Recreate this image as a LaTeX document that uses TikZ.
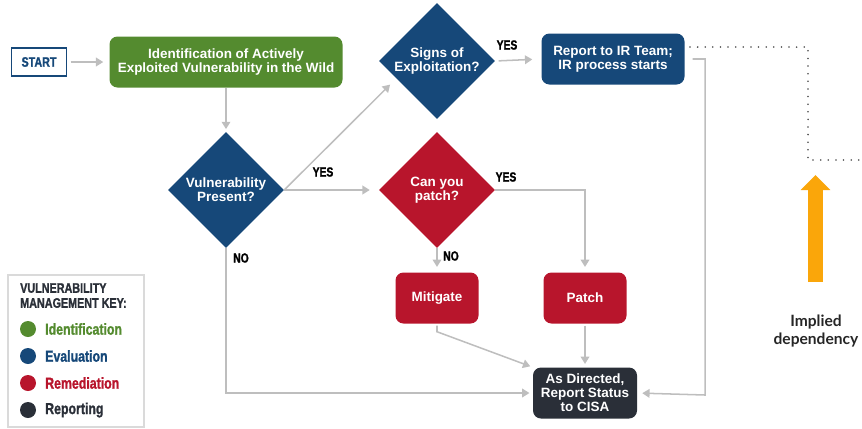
\documentclass[tikz,border=0pt]{standalone}
\usepackage{fontspec}
\setmainfont{Liberation Sans}
\newfontfamily\condfont[FakeStretch=0.78, FakeBold=1.2]{Liberation Sans Bold}
\newfontfamily\notefont{Lato Bold}
\usetikzlibrary{positioning,arrows.meta,shapes.geometric,calc}

\definecolor{keygreen}{RGB}{84,139,47}
\definecolor{evalblue}{RGB}{22,72,121}
\definecolor{remred}{RGB}{184,21,44}
\definecolor{reportdark}{RGB}{42,47,56}
\definecolor{linegray}{RGB}{190,190,190}
\definecolor{framegray}{RGB}{218,218,218}
\definecolor{dotgray}{RGB}{75,75,75}
\definecolor{depyellow}{RGB}{250,166,10}

\begin{document}
\begin{tikzpicture}[
x=0.3mm, y=-0.3mm,
box/.style={rounded corners=2.4mm, minimum height=15.3mm, align=center, text=white, inner sep=1pt, font=\bfseries\fontsize{11.5}{12}\selectfont},
decision/.style={diamond, aspect=1, minimum size=34.8mm, inner sep=0pt, align=center, text=white, font=\bfseries\fontsize{11.5}{11.8}\selectfont},
flow/.style={-{Triangle[length=2.2mm, width=2.6mm]}, line width=1.3pt, linegray},
answer/.style={font=\condfont\fontsize{11.3}{12}\selectfont},
keyitem/.style={anchor=west, inner sep=0pt, font=\condfont\fontsize{13.5}{15}\selectfont}
]
\useasboundingbox (0,0) rectangle (862,428);

% main flow
\node[draw=evalblue, line width=1.5pt, minimum width=16.5mm, minimum height=8.4mm, text=evalblue, font=\condfont\fontsize{11.7}{12}\selectfont] (start) at (39,62) {START};
\node[box, fill=keygreen, minimum width=69.9mm] (ident) at (226,62) {Identification of Actively\\Exploited Vulnerability in the Wild};
\node[decision, fill=evalblue] (present) at (226,190) {Vulnerability\\Present?};
\node[decision, fill=evalblue] (signs) at (437,61) {Signs of\\Exploitation?};
\node[decision, fill=remred] (canpatch) at (437,190) {Can you\\patch?};
\node[box, fill=evalblue, minimum width=42.9mm] (irteam) at (613,59) {Report to IR Team;\\IR process starts};
\node[box, fill=remred, minimum width=24.9mm] (mitigate) at (437,298) {Mitigate};
\node[box, fill=remred, minimum width=24.9mm] (patch) at (585,298) {Patch};
\node[box, fill=reportdark, minimum width=31.2mm] (cisa) at (585,393) {As Directed,\\Report Status\\to CISA};

% answers
\node[answer] (yes1) at (323,172) {YES};
\node[answer] (yes2) at (507,45) {YES};
\node[answer] (yes3) at (506,177) {YES};
\node[answer] (no1) at (241,258) {NO};
\node[answer] (no2) at (451,256) {NO};

% connectors
\coordinate (irdrop) at (705,395);
\draw[flow, shorten <=1mm, shorten >=1.8mm] (start) -- (ident);
\draw[flow, shorten >=0.8mm] (ident) -- (present);
\draw[flow, shorten >=2.6mm] (present.east) -- ($(signs.west)!0.3!(signs.south)$);
\draw[flow, shorten >=2.7mm] (present.east) -- (canpatch.west);
\draw[flow, shorten <=1mm, shorten >=2.7mm] (signs.east) -- (irteam.west);
\draw[flow, shorten >=1.6mm] (canpatch.east) -| (patch.north);
\draw[flow, shorten >=1.6mm] (canpatch.south) -- (mitigate.north);
\draw[flow, shorten >=1mm] (present.south) |- (cisa.west);
\draw[flow, shorten <=0.6mm, shorten >=0.8mm] (mitigate.south) -- ++(0,8) -- (cisa.north west);
\draw[flow, shorten <=0.6mm, shorten >=1mm] (patch) -- (cisa);
\draw[flow, shorten <=2.4mm, shorten >=1.5mm] (irteam.east) -| (irdrop) -- (cisa.east);

% implied dependency
\coordinate (dotstart) at (690,47);
\coordinate (dotend) at (862,160);
\draw[dotgray, line width=1.5pt, line cap=round, dash pattern=on 0pt off 6.5pt] (dotstart) -| (808,160) -- (dotend);
\coordinate (deptail) at (815.5,282);
\coordinate (dephead) at (815.5,175);
\draw[depyellow, line width=4.5mm, -{Triangle[length=4.5mm, width=8.7mm]}] (deptail) -- (dephead);
\node[align=center, text=black!85, font=\notefont\fontsize{13.3}{16}\selectfont] (deplabel) at (816,331) {Implied\\dependency};

% key
\draw[framegray, line width=0.9pt] (8,275) rectangle (144,427);
\node[anchor=north west, align=left, inner sep=0pt, text=reportdark, font=\condfont\fontsize{11.8}{12.8}\selectfont] (keytitle) at (20,283) {VULNERABILITY\\MANAGEMENT KEY:};
\foreach \name/\col [count=\i] in {Identification/keygreen, Evaluation/evalblue, Remediation/remred, Reporting/reportdark}{
  \fill[\col] (28,{329+(\i-1)*27}) circle[radius=2.4mm];
  \node[keyitem, text=\col] (key\i) at (45,{329+(\i-1)*27}) {\name};
}
\end{tikzpicture}
\end{document}
